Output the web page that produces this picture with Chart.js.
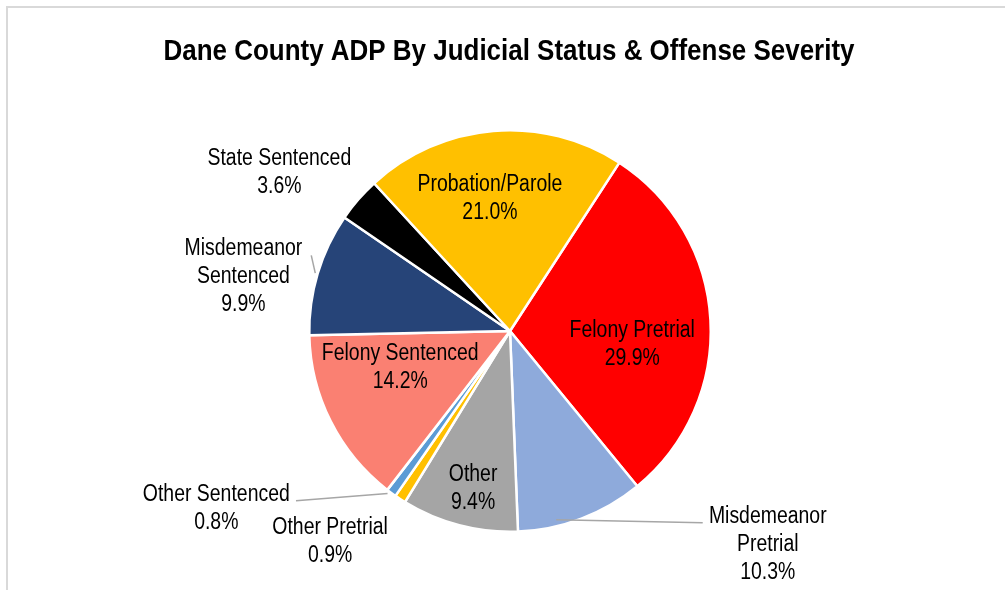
<!DOCTYPE html>
<html>
<head>
<meta charset="utf-8">
<script src="https://cdn.jsdelivr.net/npm/chart.js@4"></script>
<style>
  html, body { margin: 0; padding: 0; background: #fff; }
  #wrap { width: 1005px; height: 590px; position: relative; }
</style>
</head>
<body>
<div id="wrap"><canvas id="pieChart"></canvas></div>
<script>
// ── Data ──
const chartTitle = 'Dane County ADP By Judicial Status & Offense Severity';
const categories = [
    'Felony Pretrial', 'Misdemeanor Pretrial', 'Other', 'Other Pretrial', 'Other Sentenced',
    'Felony Sentenced', 'Misdemeanor Sentenced', 'State Sentenced', 'Probation/Parole'
];
const shares = [29.9, 10.3, 9.4, 0.9, 0.8, 14.2, 9.9, 3.6, 21.0];
const sliceColors = ['#ff0000', '#8eaadb', '#a5a5a5', '#ffc000', '#5b9bd5', '#fa8072', '#264478', '#000000', '#ffc000'];

// label lines shown for each slice (name may wrap)
const labelLines = [
    ['Felony Pretrial'], ['Misdemeanor', 'Pretrial'], ['Other'], ['Other Pretrial'], ['Other Sentenced'],
    ['Felony Sentenced'], ['Misdemeanor', 'Sentenced'], ['State Sentenced'], ['Probation/Parole']
];

// label placement, relative to pie centre in units of radius (cap centre of first line)
const labelSpots = [
    { x: 0.609, y: -0.012 },
    { x: 1.284, y: 0.915 },
    { x: -0.184, y: 0.706 },
    { x: -0.896, y: 0.970 },
    { x: -1.463, y: 0.806 },
    { x: -0.547, y: 0.104 },
    { x: -1.328, y: -0.418 },
    { x: -1.149, y: -0.866 },
    { x: -0.100, y: -0.736 }
];
// leader lines: from point (on pie) to point (near label), same units
const leaders = [
    [[0.23, 0.94], [0.96, 0.955]],
    [[-0.61, 0.81], [-1.066, 0.846]],
    [[-0.99, -0.377], [-0.97, -0.288]]
];

const FONT = "'Liberation Sans', Arial, sans-serif";

// condensed text (imitates Arial Narrow)
function narrowText(ctx, text, x, y, size, weight, squeeze) {
    ctx.save();
    ctx.font = `${weight} ${size}px ${FONT}`;
    ctx.textAlign = 'center';
    ctx.textBaseline = 'alphabetic';
    ctx.translate(x, y + size * 0.358);
    ctx.scale(squeeze, 1);
    ctx.fillText(text, 0, 0);
    ctx.restore();
}

const framePlugin = {
    id: 'frame',
    beforeDraw(chart) {
        const ctx = chart.ctx;
        ctx.save();
        ctx.strokeStyle = '#d9d9d9';
        ctx.lineWidth = 2;
        ctx.beginPath();
        ctx.moveTo(7, 590);
        ctx.lineTo(7, 7);
        ctx.lineTo(1005, 7);
        ctx.stroke();
        ctx.fillStyle = '#000';
        narrowText(ctx, chartTitle, 509, 49.5, 29.5, 'bold', 0.88);
        ctx.restore();
    }
};

const labelPlugin = {
    id: 'sliceLabels',
    afterDatasetsDraw(chart) {
        const ctx = chart.ctx;
        const arc0 = chart.getDatasetMeta(0).data[0];
        const cx = arc0.x, cy = arc0.y, r = arc0.outerRadius;
        ctx.save();
        ctx.strokeStyle = '#a6a6a6';
        ctx.lineWidth = 1.5;
        leaders.forEach(pts => {
            ctx.beginPath();
            ctx.moveTo(cx + pts[0][0] * r, cy + pts[0][1] * r);
            ctx.lineTo(cx + pts[1][0] * r, cy + pts[1][1] * r);
            ctx.stroke();
        });
        ctx.fillStyle = '#000';
        const lh = 28;
        shares.forEach((v, i) => {
            const lines = [...labelLines[i], v.toFixed(1) + '%'];
            const x = cx + labelSpots[i].x * r;
            const y = cy + labelSpots[i].y * r;
            lines.forEach((t, k) => narrowText(ctx, t, x, y + k * lh, 23, 'normal', 0.845));
        });
        ctx.restore();
    }
};

const ctxPie = document.getElementById('pieChart').getContext('2d');
new Chart(ctxPie, {
    type: 'pie',
    data: {
        labels: categories,
        datasets: [{
            data: shares,
            backgroundColor: sliceColors,
            borderColor: '#ffffff',
            borderWidth: 2.5
        }]
    },
    options: {
        responsive: true,
        maintainAspectRatio: false,
        animation: false,
        rotation: 33,
        layout: { padding: { left: 15, right: 0, top: 129, bottom: 57 } },
        plugins: {
            legend: { display: false },
            tooltip: { enabled: false },
            title: { display: false }
        }
    },
    plugins: [framePlugin, labelPlugin]
});
</script>
</body>
</html>
